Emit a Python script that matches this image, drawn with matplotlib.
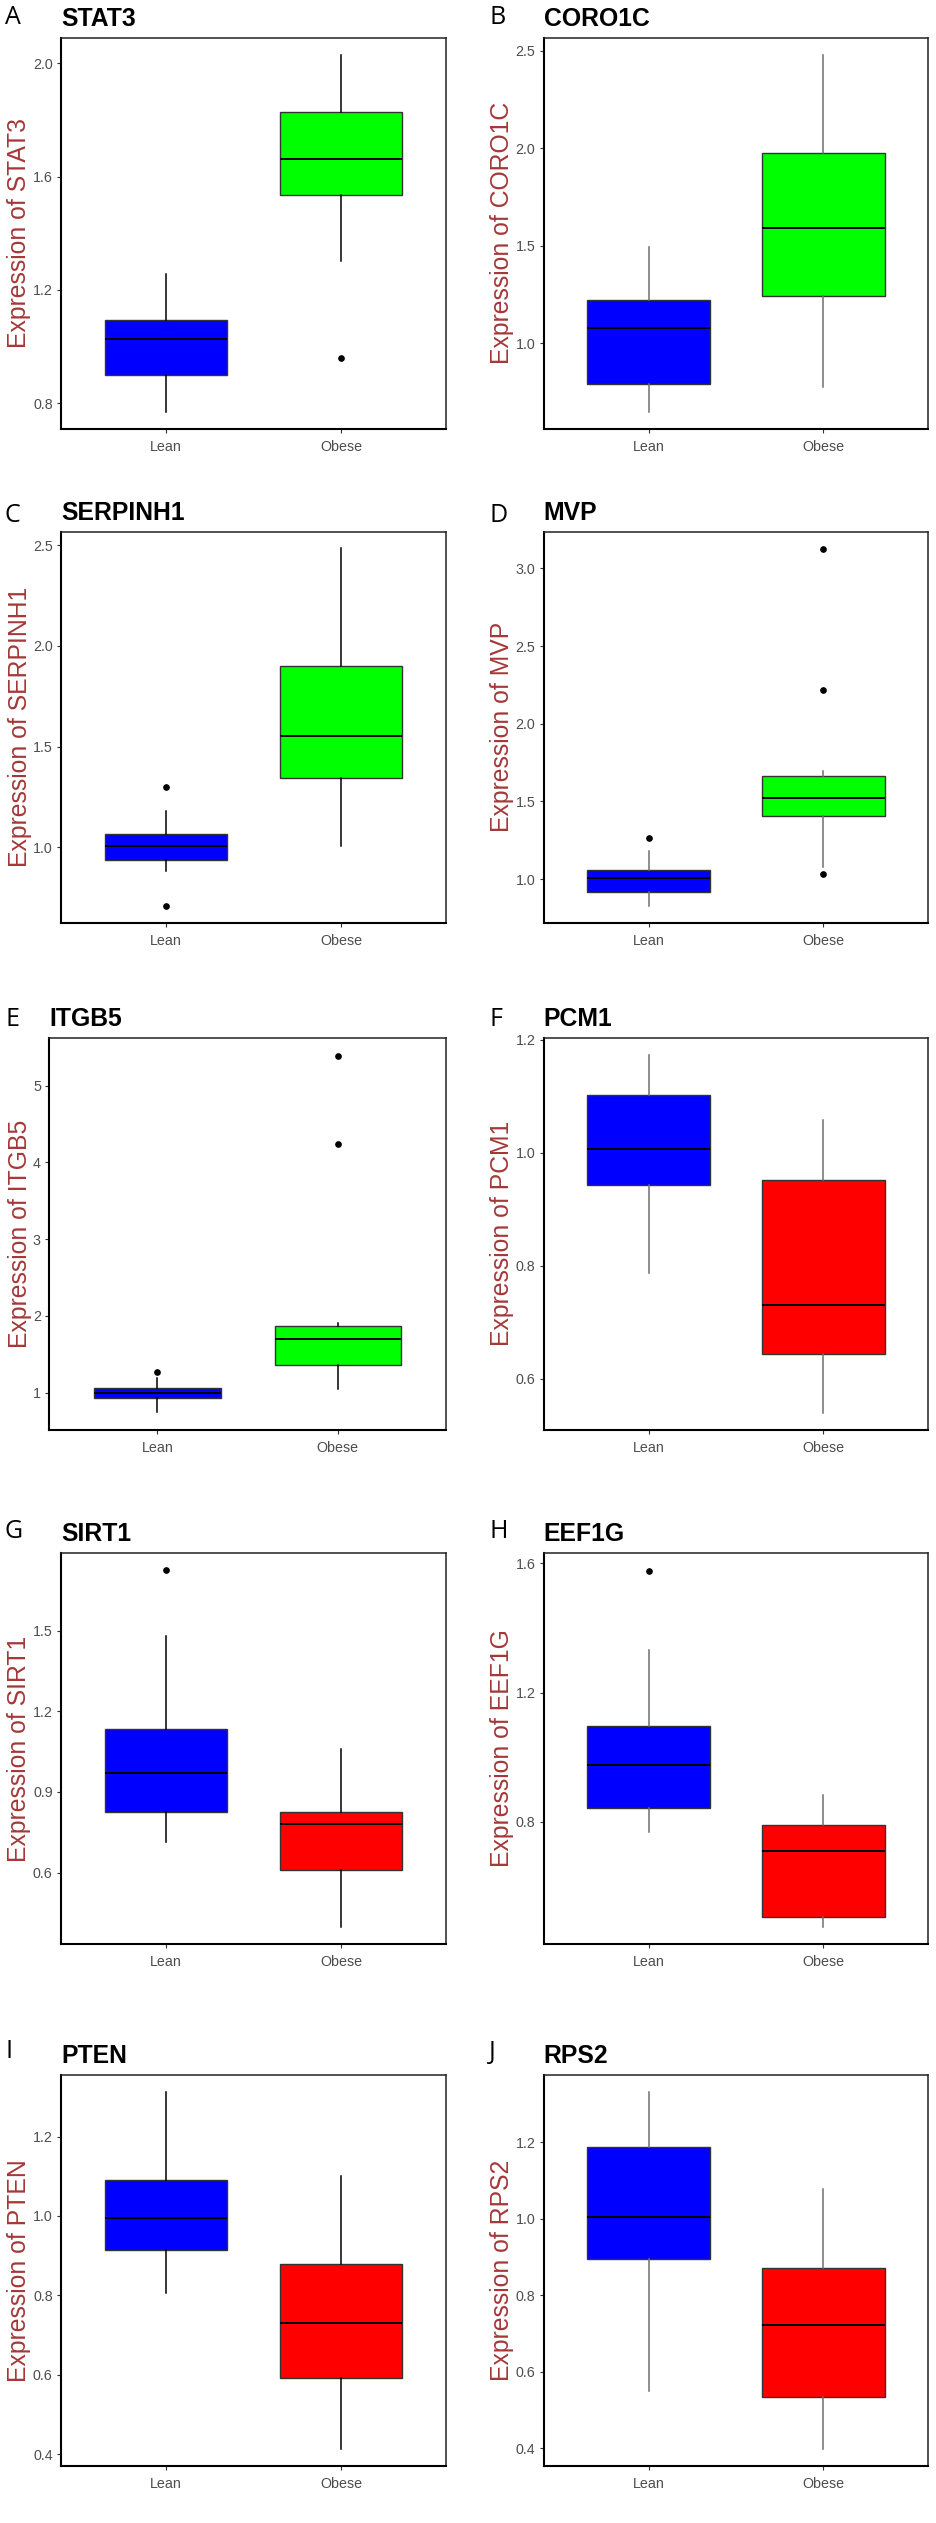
import matplotlib
matplotlib.use('Agg')
import matplotlib.pyplot as plt
from matplotlib.ticker import FormatStrFormatter

# data (box stats per gene)
genes = ['STAT3', 'CORO1C', 'SERPINH1', 'MVP', 'ITGB5',
         'PCM1', 'SIRT1', 'EEF1G', 'PTEN', 'RPS2']
letters = ['A', 'B', 'C', 'D', 'E', 'F', 'G', 'H', 'I', 'J']
groups = ['Lean', 'Obese']

lean_whislo = [0.768, 0.649, 0.882, 0.828, 0.745, 0.787, 0.712, 0.768, 0.806, 0.548]
lean_q1     = [0.901, 0.790, 0.937, 0.918, 0.935, 0.943, 0.827, 0.843, 0.914, 0.895]
lean_med    = [1.027, 1.077, 1.006, 1.004, 1.000, 1.006, 0.971, 0.975, 0.994, 1.004]
lean_q3     = [1.092, 1.222, 1.067, 1.058, 1.065, 1.102, 1.135, 1.098, 1.091, 1.187]
lean_whishi = [1.256, 1.493, 1.180, 1.182, 1.187, 1.174, 1.480, 1.332, 1.313, 1.331]
lean_fliers = [[], [], [1.301, 0.709], [1.266], [1.274], [], [1.724], [1.576], [], []]

obese_whislo = [1.302, 0.777, 1.006, 1.079, 1.048, 0.540, 0.397, 0.474, 0.413, 0.398]
obese_q1     = [1.535, 1.243, 1.345, 1.407, 1.357, 0.643, 0.610, 0.507, 0.593, 0.533]
obese_med    = [1.661, 1.590, 1.552, 1.521, 1.704, 0.730, 0.780, 0.710, 0.731, 0.722]
obese_q3     = [1.827, 1.977, 1.899, 1.661, 1.873, 0.952, 0.826, 0.790, 0.879, 0.871]
obese_whishi = [2.030, 2.480, 2.483, 1.697, 1.904, 1.059, 1.061, 0.884, 1.101, 1.077]
obese_fliers = [[0.959], [], [], [3.124, 2.214, 1.030], [5.391, 4.237], [], [], [], [], []]

y_limits = [(0.709, 2.090), (0.56, 2.568), (0.626, 2.566), (0.719, 3.236), (0.514, 5.625),
            (0.509, 1.204), (0.333, 1.79), (0.422, 1.632), (0.370, 1.356), (0.353, 1.377)]
y_ticks = [[0.8, 1.2, 1.6, 2.0], [1.0, 1.5, 2.0, 2.5], [1.0, 1.5, 2.0, 2.5],
           [1.0, 1.5, 2.0, 2.5, 3.0], [1, 2, 3, 4, 5], [0.6, 0.8, 1.0, 1.2],
           [0.6, 0.9, 1.2, 1.5], [0.8, 1.2, 1.6], [0.4, 0.6, 0.8, 1.0, 1.2],
           [0.4, 0.6, 0.8, 1.0, 1.2]]

lean_color = '#0000FF'
obese_colors = ['#00FF00'] * 5 + ['#FF0000'] * 5

# layout in pixels
W, H = 936, 2523
rows_px = [(37.7, 429), (531.7, 922.7), (1037.7, 1430), (1552.7, 1944.3), (2074.7, 2466)]
letter_y = [18, 515, 1019, 1532, 2052]

plt.rcParams['font.family'] = ['Liberation Sans', 'DejaVu Sans']
fig = plt.figure(figsize=(W / 100, H / 100), dpi=100)

for i, gene in enumerate(genes):
    row, col = i // 2, i % 2
    top, bot = rows_px[row]
    if col == 0:
        x0 = 49.3 if gene == 'ITGB5' else 61
        x1 = 446
        wcol = 'black'
        lx = 5
    else:
        x0, x1 = 543.7, 928.3
        wcol = '#6f6f6f'
        lx = 489
    ax = fig.add_axes([x0 / W, 1 - bot / H, (x1 - x0) / W, (bot - top) / H])

    stats = [
        dict(whislo=lean_whislo[i], q1=lean_q1[i], med=lean_med[i], q3=lean_q3[i],
             whishi=lean_whishi[i], fliers=lean_fliers[i], label=groups[0]),
        dict(whislo=obese_whislo[i], q1=obese_q1[i], med=obese_med[i], q3=obese_q3[i],
             whishi=obese_whishi[i], fliers=obese_fliers[i], label=groups[1]),
    ]
    bp = ax.bxp(stats, positions=[1, 2], widths=0.7, patch_artist=True, showcaps=False,
                boxprops=dict(edgecolor='#333333', linewidth=1.0),
                whiskerprops=dict(color=wcol, linewidth=1.1),
                medianprops=dict(color='black', linewidth=1.4),
                flierprops=dict(marker='o', markerfacecolor='black', markeredgecolor='black',
                                markersize=3.8, linestyle='none'))
    bp['boxes'][0].set_facecolor(lean_color)
    bp['boxes'][1].set_facecolor(obese_colors[i])

    ax.set_xlim(0.4, 2.6)
    ax.set_ylim(*y_limits[i])
    ax.set_yticks(y_ticks[i])
    if gene == 'ITGB5':
        ax.yaxis.set_major_formatter(FormatStrFormatter('%d'))
    else:
        ax.yaxis.set_major_formatter(FormatStrFormatter('%.1f'))
    ax.tick_params(axis='both', direction='out', length=3, width=0.8, color='#333333',
                   labelcolor='#4D4D4D', labelsize=10.3, pad=3)
    ax.tick_params(axis='x', pad=5)

    for side in ['top', 'right']:
        ax.spines[side].set_linewidth(1.1)
        ax.spines[side].set_color('#222222')
    for side in ['left', 'bottom']:
        ax.spines[side].set_linewidth(1.5)
        ax.spines[side].set_color('black')

    ax.set_ylabel('Expression of ' + gene, fontsize=17.8, color='#A43838', labelpad=1)
    ax.set_title(gene, loc='left', fontsize=17.8, fontweight='bold', pad=8.6)

    fig.text(lx / W, 1 - letter_y[row] / H, letters[i], fontsize=18,
             family=['Open Sans', 'DejaVu Sans'], va='center', ha='left')

fig.savefig('out.png', dpi=100, facecolor='white')
